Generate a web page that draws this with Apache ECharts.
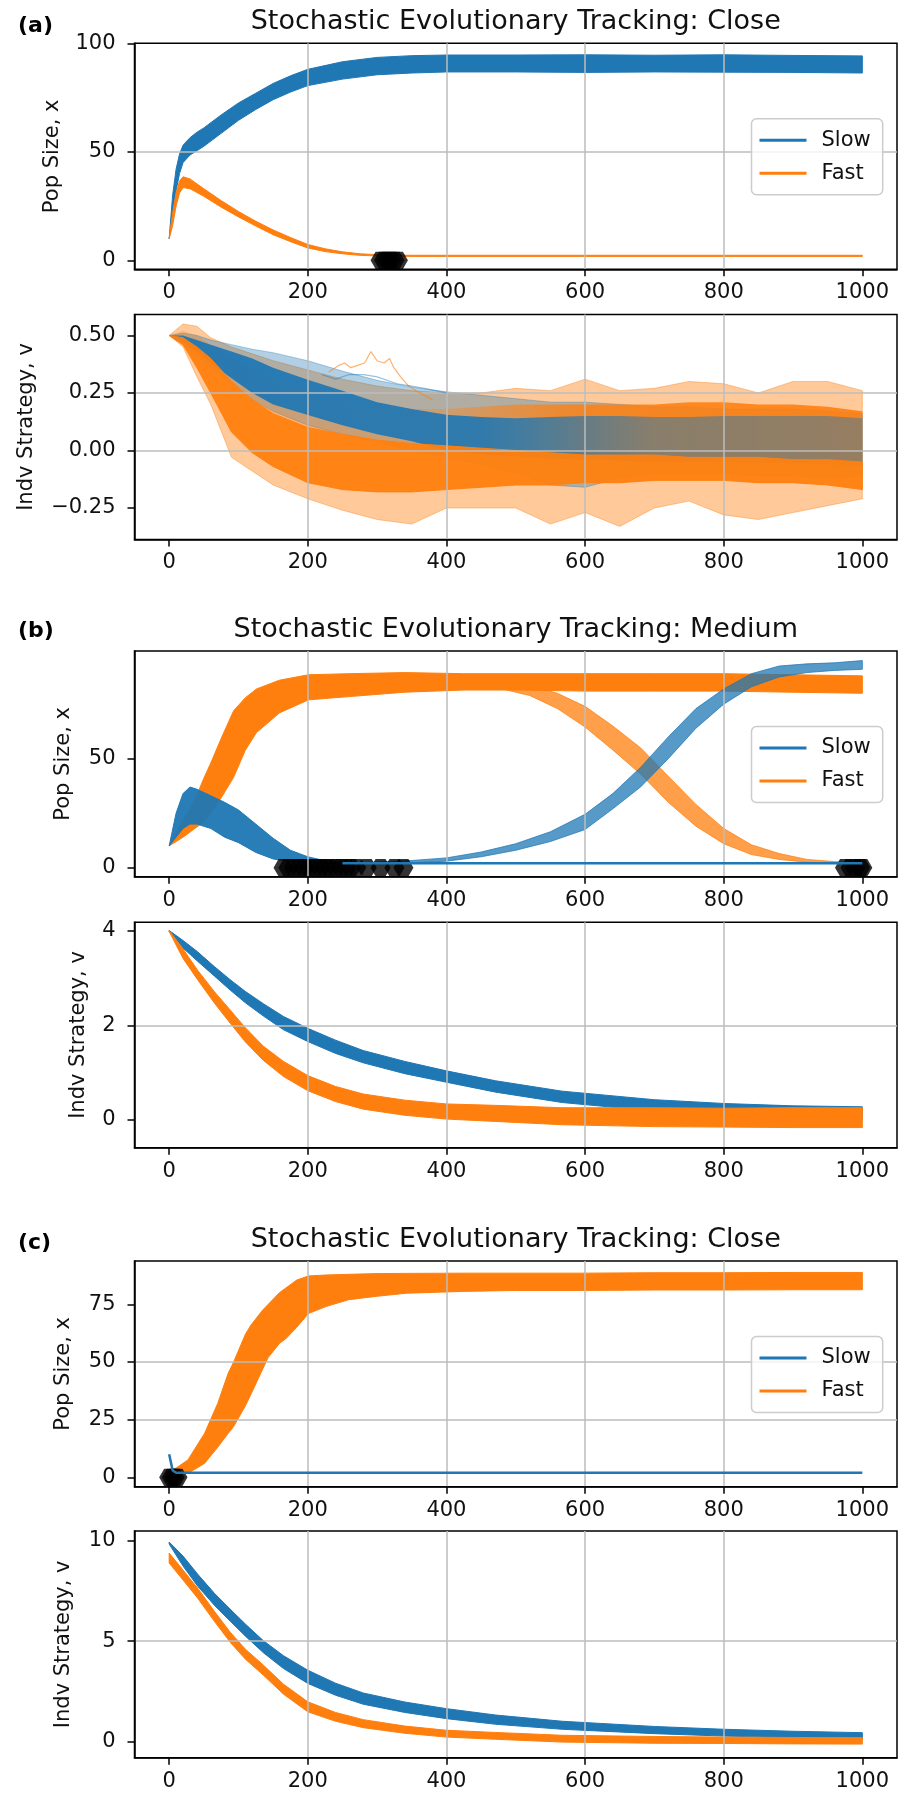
<!DOCTYPE html>
<html>
<head>
<meta charset="utf-8">
<title>Stochastic Evolutionary Tracking</title>
<script src="https://cdn.jsdelivr.net/npm/echarts@6/dist/echarts.min.js"></script>
<style>
  html, body { margin: 0; padding: 0; background: #ffffff; }
  #chart { width: 903px; height: 1796px; }
</style>
</head>
<body>
<div id="chart"></div>
<script>
// ---------- tick values ----------
const xTicks = [0, 200, 400, 600, 800, 1000];
const aPopTicks = [0, 50, 100];
const aStratTicks = [-0.25, 0, 0.25, 0.5];
const bPopTicks = [0, 50];
const bStratTicks = [0, 2, 4];
const cPopTicks = [0, 25, 50, 75];
const cStratTicks = [0, 5, 10];

// ---------- (a) Close: population size ----------
const aPopSlowX  = [0, 5, 10, 15, 20, 30, 40, 50, 75, 100, 125, 150, 175, 200, 250, 300, 350, 400, 500, 600, 700, 800, 900, 1000];
const aPopSlowHi = [10, 30, 42, 49, 53, 56.5, 59, 61, 67, 72.5, 77, 81.5, 85, 88, 91.5, 93.5, 94.3, 94.6, 94.6, 94.7, 94.5, 94.7, 94.4, 94.2];
const aPopSlowLo = [10, 20, 32, 40, 45, 48.5, 50.5, 52.5, 58.5, 64.5, 69.5, 74, 77.5, 80.5, 83.5, 85.5, 86.3, 86.8, 86.8, 86.6, 86.8, 86.7, 86.6, 86.3];
const aPopFastX  = [0, 5, 10, 15, 20, 30, 50, 75, 100, 125, 150, 175, 200, 225, 250, 275, 300, 350, 1000];
const aPopFastHi = [10, 22, 31, 36.5, 38.5, 37.5, 33, 27.5, 22.5, 18, 14, 10.5, 7.3, 5.3, 3.9, 3.0, 2.6, 2.3, 2.3];
const aPopFastLo = [10, 16, 25, 31, 33.5, 33, 29.5, 24.5, 20, 15.8, 11.8, 8.6, 5.7, 4.0, 3.0, 2.3, 2.0, 1.8, 1.8];
const aExtinctX  = [305, 310, 315, 320, 325, 330];

// ---------- (a) Close: individual strategy ----------
const aStratX       = [0, 20, 40, 60, 90, 120, 150, 200, 250, 300, 350, 400, 450, 500, 550, 600, 650, 700, 750, 800, 850, 900, 950, 1000];
const aFastOuterHi  = [0.5, 0.55, 0.54, 0.49, 0.45, 0.42, 0.39, 0.35, 0.31, 0.28, 0.26, 0.25, 0.25, 0.27, 0.26, 0.31, 0.26, 0.27, 0.30, 0.29, 0.25, 0.30, 0.30, 0.26];
const aFastOuterLo  = [0.5, 0.45, 0.32, 0.2, -0.03, -0.09, -0.15, -0.21, -0.26, -0.30, -0.32, -0.25, -0.25, -0.25, -0.32, -0.27, -0.33, -0.25, -0.22, -0.28, -0.30, -0.27, -0.24, -0.21];
const aFastMixHi    = [0.5, 0.52, 0.5, 0.46, 0.4, 0.35, 0.31, 0.26, 0.22, 0.19, 0.18, 0.18, 0.19, 0.2, 0.2, 0.2, 0.2, 0.2, 0.21, 0.21, 0.2, 0.2, 0.19, 0.17];
const aFastPureHi   = [0.5, 0.49, 0.45, 0.4, 0.3, 0.22, 0.16, 0.1, 0.07, 0.045, 0.03, 0.02, 0.01, 0.0, -0.01, -0.02, -0.02, -0.02, -0.03, -0.03, -0.03, -0.04, -0.04, -0.05];
const aFastDenseLo  = [0.5, 0.46, 0.36, 0.25, 0.08, -0.01, -0.07, -0.14, -0.17, -0.18, -0.18, -0.17, -0.16, -0.15, -0.15, -0.14, -0.14, -0.13, -0.13, -0.13, -0.14, -0.14, -0.15, -0.17];
const aSlowOuterHi  = [0.5, 0.51, 0.5, 0.48, 0.46, 0.44, 0.425, 0.39, 0.345, 0.305, 0.275, 0.255, 0.24, 0.225, 0.21, 0.21, 0.2, 0.19, 0.19, 0.18, 0.18, 0.18, 0.17, 0.16];
const aSlowDenseHi  = [0.5, 0.5, 0.48, 0.46, 0.43, 0.4, 0.36, 0.307, 0.26, 0.21, 0.18, 0.155, 0.145, 0.14, 0.145, 0.15, 0.15, 0.145, 0.145, 0.15, 0.15, 0.15, 0.15, 0.14];
const aSlowDenseLo  = [0.5, 0.47, 0.43, 0.38, 0.314, 0.25, 0.2, 0.154, 0.11, 0.07, 0.04, 0.0, -0.015, -0.025, -0.035, -0.04, -0.045, -0.05, -0.05, -0.05, -0.055, -0.055, -0.06, -0.07];
const aSlowOuterLo  = [0.5, 0.46, 0.41, 0.36, 0.29, 0.22, 0.17, 0.11, 0.07, 0.035, 0.0, -0.03, -0.06, -0.1, -0.15, -0.16, -0.12, -0.1, -0.1, -0.1, -0.11, -0.11, -0.12, -0.11];
const aStrayFastX   = [230, 245, 253, 262, 272, 282, 291, 300, 310, 318, 324, 334, 344, 356, 368, 380];
const aStrayFastY   = [0.34, 0.37, 0.38, 0.36, 0.37, 0.38, 0.43, 0.39, 0.38, 0.4, 0.36, 0.32, 0.285, 0.26, 0.24, 0.22];
const aStraySlowX   = [220, 240, 260, 281, 300, 329, 350, 368, 400];
const aStraySlowY   = [0.33, 0.31, 0.33, 0.33, 0.32, 0.29, 0.28, 0.27, 0.25];

// ---------- (b) Medium: population size ----------
const bPopSlowX    = [0, 10, 20, 30, 40, 60, 80, 100, 125, 150, 175, 200, 225, 250];
const bPopSlowHi   = [10, 25, 34, 37, 36, 33, 30, 26.5, 20, 13.5, 8, 5, 3.2, 2.3];
const bPopSlowLo   = [10, 14, 18, 20, 20, 18, 14, 11.5, 7, 4, 2.8, 2.2, 2.0, 2.0];
const bRiseX       = [250, 300, 350, 400, 450, 500, 550, 600, 640, 680, 720, 760, 800, 840, 880, 920, 960, 1000];
const bRiseHi      = [2.2, 2.6, 3.3, 4.5, 7.2, 11, 16.5, 24.5, 34, 46, 60, 73, 82, 89, 92.5, 93.5, 94, 95];
const bRiseLo      = [2.0, 2.0, 2.2, 3, 5, 8, 12, 17.5, 27, 37, 50, 64, 75, 83, 87.5, 89.5, 90.5, 91];
const bFlatSlowX   = [250, 1000];
const bFlatSlowY   = [2, 2];
const bPopFastX    = [0, 20, 35, 50, 60, 76, 93, 110, 126, 159, 201, 260, 340, 425, 500, 600, 700, 800, 900, 1000];
const bPopFastHi   = [10, 22, 29.5, 41, 48, 60, 72, 78, 82, 86, 88.5, 89, 89.5, 89, 89, 89, 89, 89, 88.5, 88];
const bPopFastLo   = [10, 14, 17.5, 21, 25, 32.5, 41.5, 54, 62, 71, 77, 78.5, 80.5, 81.5, 81.5, 81, 81, 81, 80.5, 80];
const bFallX       = [480, 520, 560, 600, 640, 680, 720, 760, 800, 840, 880, 920, 960, 1000];
const bFallHi      = [84, 83.5, 80, 74, 65, 55, 42, 29, 18, 10.5, 6.5, 3.8, 2.8, 2.3];
const bFallLo      = [82, 79, 73, 64.5, 54, 43, 30, 19, 11, 6, 3.8, 2.5, 2.0, 2.0];
const bExtinctX    = [165, 172, 180, 188, 195, 202, 210, 218, 225, 232, 240, 248, 255, 262, 270, 285, 305, 325, 338, 975, 983, 990, 997, 1000];

// ---------- (b) Medium: individual strategy ----------
const bStratX      = [0, 20, 41, 65, 88, 110, 136, 165, 200, 240, 280, 340, 400, 471, 567, 700, 800, 900, 1000];
const bStratSlowHi = [4.01, 3.8, 3.56, 3.25, 2.97, 2.72, 2.46, 2.19, 1.94, 1.69, 1.47, 1.24, 1.04, 0.83, 0.61, 0.43, 0.35, 0.3, 0.28];
const bStratSlowLo = [3.99, 3.64, 3.36, 3.05, 2.75, 2.48, 2.2, 1.91, 1.66, 1.41, 1.21, 0.98, 0.8, 0.59, 0.37, 0.19, 0.11, 0.06, 0.02];
const bStratFastHi = [4.01, 3.62, 3.17, 2.72, 2.33, 1.95, 1.56, 1.24, 0.94, 0.71, 0.55, 0.42, 0.34, 0.31, 0.26, 0.26, 0.25, 0.26, 0.26];
const bStratFastLo = [3.99, 3.42, 2.97, 2.48, 2.05, 1.65, 1.26, 0.92, 0.62, 0.39, 0.23, 0.1, 0.02, -0.03, -0.1, -0.14, -0.15, -0.16, -0.16];

// ---------- (c) Close: population size ----------
const cPopFastX  = [0, 10, 27, 51, 70, 85, 93, 110, 118, 135, 143, 159, 168, 184, 201, 226, 259, 300, 342, 425, 500, 600, 700, 800, 900, 1000];
const cPopFastHi = [3, 4, 7.5, 19, 32, 45, 50, 62, 66, 72.5, 75, 80, 82, 85.5, 87.3, 87.7, 88, 88.3, 88.4, 88.5, 88.5, 88.5, 88.7, 88.7, 88.8, 88.8];
const cPopFastLo = [1, 1.5, 1.7, 6, 13, 19, 22, 31, 36, 47, 52, 58, 60, 65, 71, 74, 77, 78.5, 79.8, 80.6, 81, 81, 81.2, 81.2, 81.3, 81.3];
const cPopSlowX  = [0, 5, 10, 1000];
const cPopSlowY  = [10, 3, 2, 2];
const cExtinctX  = [0, 4, 8, 12];

// ---------- (c) Close: individual strategy ----------
const cStratX      = [0, 20, 41, 65, 88, 110, 136, 165, 200, 240, 280, 340, 400, 471, 567, 700, 800, 900, 1000];
const cStratSlowHi = [9.95, 9.25, 8.35, 7.4, 6.6, 5.85, 5.02, 4.27, 3.55, 2.9, 2.41, 1.96, 1.63, 1.31, 1.0, 0.74, 0.6, 0.5, 0.43];
const cStratSlowLo = [9.85, 8.75, 7.75, 6.8, 6.0, 5.25, 4.42, 3.63, 2.89, 2.3, 1.85, 1.44, 1.13, 0.85, 0.6, 0.38, 0.26, 0.18, 0.11];
const cStratFastHi = [9.4, 8.55, 7.65, 6.5, 5.45, 4.6, 3.8, 2.85, 1.97, 1.44, 1.08, 0.76, 0.55, 0.44, 0.3, 0.24, 0.21, 0.19, 0.18];
const cStratFastLo = [8.9, 8.05, 7.15, 6.0, 4.95, 4.1, 3.3, 2.35, 1.47, 1.0, 0.68, 0.4, 0.21, 0.1, -0.04, -0.1, -0.11, -0.13, -0.14];

// ---------- styling ----------
const FONT = 'DejaVu Sans';
const C_SLOW = '#1f77b4';
const C_FAST = '#ff7f0e';
const GRID_LINE = '#bdbdbd';
const HEX = 'path://M-1,0 L-0.5,-0.866 L0.5,-0.866 L1,0 L0.5,0.866 L-0.5,0.866 Z';

const PLOT_LEFT = 134.5;
const PLOT_WIDTH = 762.5;
const PLOT_CENTER = PLOT_LEFT + PLOT_WIDTH / 2;

// panel frames, top to bottom
const panels = [
  { top: 43.3,  height: 226.0, min: -4.15,  max: 100,   step: 50,   ticks: aPopTicks,   name: 'Pop Size, x',      gap: 71, legend: true },
  { top: 314.5, height: 225.0, min: -0.387, max: 0.591, step: 0.25, ticks: aStratTicks, name: 'Indv Strategy, v', gap: 97, fixed: 2 },
  { top: 651.0, height: 225.7, min: -4.13,  max: 99.4,  step: 50,   ticks: bPopTicks,   name: 'Pop Size, x',      gap: 60, legend: true },
  { top: 922.3, height: 225.4, min: -0.586, max: 4.184, step: 2,    ticks: bStratTicks, name: 'Indv Strategy, v', gap: 45 },
  { top: 1261,  height: 225.7, min: -4.08,  max: 93.77, step: 25,   ticks: cPopTicks,   name: 'Pop Size, x',      gap: 60, legend: true },
  { top: 1531,  height: 226.7, min: -0.82,  max: 10.5,  step: 5,    ticks: cStratTicks, name: 'Indv Strategy, v', gap: 60 }
];

const headings = [
  { text: 'Stochastic Evolutionary Tracking: Close',  letter: '(a)', y: 22.4,   ly: 26 },
  { text: 'Stochastic Evolutionary Tracking: Medium', letter: '(b)', y: 630.1,  ly: 631 },
  { text: 'Stochastic Evolutionary Tracking: Close',  letter: '(c)', y: 1240.1, ly: 1243 }
];

function fmtTick(v, fixed) {
  const s = fixed != null ? Math.abs(v).toFixed(fixed) : String(Math.abs(v));
  return (v < 0 ? '\u2212' : '') + s;
}

// left-to-right change of opacity, used where many translucent runs overlap
function fade(hex, stops) {
  const n = parseInt(hex.slice(1), 16);
  const rgb = [(n >> 16) & 255, (n >> 8) & 255, n & 255].join(',');
  return new echarts.graphic.LinearGradient(0, 0, 1, 0,
    stops.map(s => ({ offset: s[0], color: 'rgba(' + rgb + ',' + s[1] + ')' })));
}

const grid = panels.map(p => ({
  left: PLOT_LEFT, width: PLOT_WIDTH, top: p.top, height: p.height,
  show: true, borderColor: '#000', borderWidth: 1.5, backgroundColor: 'transparent'
}));

const xAxis = panels.map((p, i) => ({
  type: 'value', gridIndex: i, min: -50, max: 1050,
  minInterval: 200, maxInterval: 200, z: 3,
  axisLine: { show: true, onZero: false, lineStyle: { color: '#000', width: 1.5 } },
  axisTick: { show: true, length: 7, customValues: xTicks, lineStyle: { color: '#000', width: 1.5 } },
  axisLabel: { customValues: xTicks, margin: 13, fontFamily: FONT, fontSize: 21, color: '#111',
               formatter: v => fmtTick(v) },
  splitLine: { show: true, showMinLine: false, showMaxLine: false, lineStyle: { color: GRID_LINE, width: 1.5 } }
}));

const yAxis = panels.map((p, i) => ({
  type: 'value', gridIndex: i, min: p.min, max: p.max,
  minInterval: p.step, maxInterval: p.step, z: 3,
  name: p.name, nameLocation: 'middle', nameGap: p.gap,
  nameTextStyle: { fontFamily: FONT, fontSize: 21, color: '#111' },
  axisLine: { show: true, onZero: false, lineStyle: { color: '#000', width: 1.5 } },
  axisTick: { show: true, length: 7, customValues: p.ticks, lineStyle: { color: '#000', width: 1.5 } },
  axisLabel: {
    customValues: p.ticks, margin: 19, fontFamily: FONT, fontSize: 21, color: '#111',
    formatter: v => fmtTick(v, p.fixed)
  },
  splitLine: { show: true, showMinLine: false, showMaxLine: false, lineStyle: { color: GRID_LINE, width: 1.5 } }
}));

// filled envelope between a lower and an upper trace
function band(name, gi, xs, lo, hi, fill, opacity) {
  const solid = typeof fill === 'string';
  return {
    type: 'custom', name: name, xAxisIndex: gi, yAxisIndex: gi,
    coordinateSystem: 'cartesian2d', silent: true, clip: true,
    data: xs.map((x, k) => [x, lo[k], hi[k]]),
    encode: { x: 0, y: [1, 2] },
    renderItem: function (params, api) {
      if (params.dataIndex !== 0) return null;
      const pts = [];
      for (let k = 0; k < xs.length; k++) pts.push(api.coord([xs[k], hi[k]]));
      for (let k = xs.length - 1; k >= 0; k--) pts.push(api.coord([xs[k], lo[k]]));
      return {
        type: 'polygon', shape: { points: pts },
        style: solid
          ? { fill: fill, opacity: opacity, stroke: fill, lineWidth: 1, lineJoin: 'round' }
          : { fill: fill, opacity: opacity }
      };
    }
  };
}

function trace(name, gi, xs, ys, color, width, opacity) {
  return {
    type: 'line', name: name, xAxisIndex: gi, yAxisIndex: gi,
    data: xs.map((x, k) => [x, ys[k]]),
    showSymbol: false, silent: true,
    lineStyle: { color: color, width: width, opacity: opacity == null ? 1 : opacity },
    itemStyle: { color: color }
  };
}

function extinct(gi, xs) {
  return {
    type: 'scatter', name: 'extinct', xAxisIndex: gi, yAxisIndex: gi,
    data: xs.map(x => [x, 0]), symbol: HEX, symbolSize: [20, 17.3],
    itemStyle: { color: '#000' }, silent: true
  };
}

const series = [
  // (a) population
  band('Slow', 0, aPopSlowX, aPopSlowLo, aPopSlowHi, C_SLOW, 1),
  band('Fast', 0, aPopFastX, aPopFastLo, aPopFastHi, C_FAST, 1),
  extinct(0, aExtinctX),

  // (a) strategy
  band('Fast', 1, aStratX, aFastOuterLo, aFastOuterHi, C_FAST, 0.42),
  band('Slow', 1, aStratX, aSlowOuterLo, aSlowOuterHi, C_SLOW, 0.35),
  trace('Fast', 1, aStrayFastX, aStrayFastY, C_FAST, 1.2, 0.6),
  trace('Slow', 1, aStraySlowX, aStraySlowY, C_SLOW, 1.2, 0.45),
  band('Fast', 1, aStratX, aFastPureHi, aFastMixHi,
       fade(C_FAST, [[0, 0.25], [0.4, 0.35], [0.6, 0.85], [1, 0.9]]), 1),
  band('Slow', 1, aStratX, aSlowDenseLo, aSlowDenseHi,
       fade(C_SLOW, [[0, 0.95], [0.45, 0.9], [0.7, 0.5], [1, 0.45]]), 1),
  band('Fast', 1, aStratX, aFastDenseLo, aFastPureHi, C_FAST, 0.95),

  // (b) population
  band('Fast', 2, bPopFastX, bPopFastLo, bPopFastHi, C_FAST, 1),
  band('Slow', 2, bPopSlowX, bPopSlowLo, bPopSlowHi, C_SLOW, 0.95),
  trace('Slow', 2, bFlatSlowX, bFlatSlowY, C_SLOW, 2.5),
  band('Fast', 2, bFallX, bFallLo, bFallHi, C_FAST, 0.75),
  band('Slow', 2, bRiseX, bRiseLo, bRiseHi, C_SLOW, 0.75),
  extinct(2, bExtinctX),

  // (b) strategy
  band('Slow', 3, bStratX, bStratSlowLo, bStratSlowHi, C_SLOW, 1),
  band('Fast', 3, bStratX, bStratFastLo, bStratFastHi, C_FAST, 1),

  // (c) population
  trace('Slow', 4, cPopSlowX, cPopSlowY, C_SLOW, 2.5),
  band('Fast', 4, cPopFastX, cPopFastLo, cPopFastHi, C_FAST, 1),
  extinct(4, cExtinctX),

  // (c) strategy
  band('Slow', 5, cStratX, cStratSlowLo, cStratSlowHi, C_SLOW, 1),
  band('Fast', 5, cStratX, cStratFastLo, cStratFastHi, C_FAST, 1)
];

const legend = panels.map((p, i) => p.legend ? {
  left: 751.5, top: p.top + 75.5, orient: 'vertical',
  data: [
    { name: 'Slow', icon: 'rect', itemStyle: { color: C_SLOW } },
    { name: 'Fast', icon: 'rect', itemStyle: { color: C_FAST } }
  ],
  itemWidth: 47, itemHeight: 3, itemGap: 8, padding: [9, 12, 9, 8],
  backgroundColor: 'rgba(255,255,255,0.8)', borderColor: '#cccccc', borderWidth: 1.5, borderRadius: 5,
  textStyle: { fontFamily: FONT, fontSize: 21, color: '#111', lineHeight: 25, padding: [0, 0, 0, 10] },
  selectedMode: false, z: 10
} : null).filter(Boolean);

const title = [];
headings.forEach(h => {
  title.push({
    text: h.text, left: PLOT_CENTER, top: h.y - 16, textAlign: 'center', padding: 0,
    textStyle: { fontFamily: FONT, fontSize: 27, fontWeight: 'normal', color: '#111', lineHeight: 32 }
  });
  title.push({
    text: h.letter, left: 18, top: h.ly - 14, padding: 0,
    textStyle: { fontFamily: FONT, fontSize: 22, fontWeight: 'bold', color: '#000', lineHeight: 28 }
  });
});

const chart = echarts.init(document.getElementById('chart'), null, { renderer: 'canvas' });
chart.setOption({
  backgroundColor: '#ffffff',
  animation: false,
  title: title,
  legend: legend,
  grid: grid,
  xAxis: xAxis,
  yAxis: yAxis,
  series: series
});
</script>
</body>
</html>
